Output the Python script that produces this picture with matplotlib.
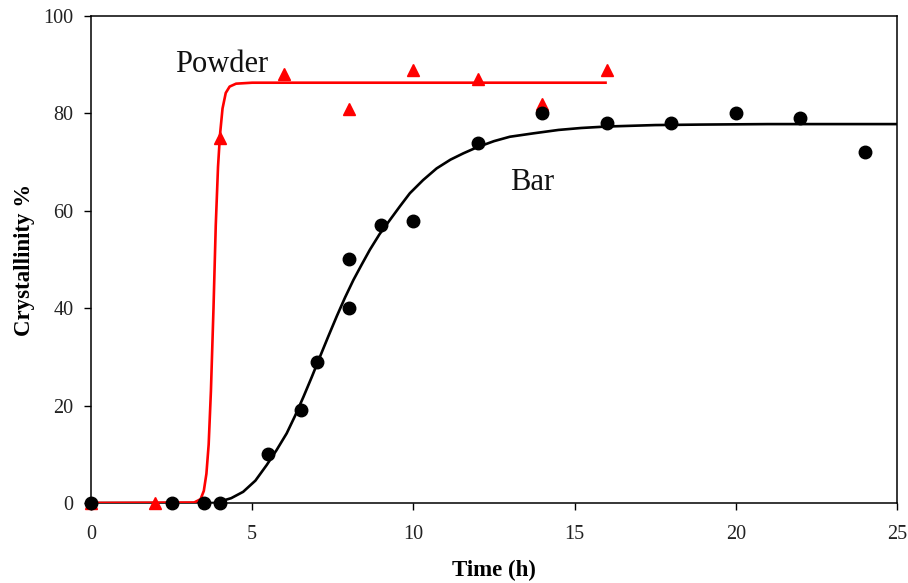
import matplotlib
matplotlib.use("Agg")
import matplotlib.pyplot as plt

# Measured data
bar_t = [0, 2.5, 3.5, 4, 5.5, 6.5, 7, 8, 8, 9, 10, 12, 14, 16, 18, 20, 22, 24]
bar_y = [0, 0, 0, 0, 10, 19, 29, 50, 40, 57, 58, 74, 80, 78, 78, 80, 79, 72]

powder_t = [0, 2, 4, 6, 8, 10, 12, 14, 16]
powder_y = [0, 0, 75, 88, 81, 89, 87, 82, 89]

# Fitted curves
bar_fit_t = [0, 3.8, 4.0, 4.35, 4.72, 5.1, 5.45, 5.75, 6.07, 6.33, 6.59, 6.85, 7.10,
             7.36, 7.62, 7.88, 8.14, 8.4, 8.65, 8.95, 9.27, 9.58, 9.89, 10.3, 10.72,
             11.15, 11.55, 11.96, 12.5, 12.99, 13.72, 14.5, 15.2, 15.99, 17.5, 18.9,
             21, 25]
bar_fit_y = [0, 0, 0.3, 1.0, 2.3, 4.6, 7.8, 10.8, 14.3, 17.9, 21.8, 25.9, 30.0,
             34.2, 38.3, 42.2, 45.8, 49.0, 52.0, 55.2, 58.1, 60.9, 63.6, 66.3, 68.7,
             70.5, 71.8, 73.0, 74.3, 75.2, 75.9, 76.6, 77.0, 77.3, 77.6, 77.7,
             77.8, 77.8]

powder_fit_t = [0, 3.2, 3.4, 3.5, 3.58, 3.65, 3.72, 3.8, 3.87, 3.94, 4.0, 4.08,
                4.18, 4.3, 4.5, 5.0, 16]
powder_fit_y = [0, 0.1, 0.8, 2.5, 6, 12, 23, 40, 57, 69, 75.5, 81,
                84.2, 85.5, 86.1, 86.3, 86.3]

x_ticks = [0, 5, 10, 15, 20, 25]
y_ticks = [0, 20, 40, 60, 80, 100]

plt.rcParams['font.family'] = ['Liberation Serif', 'DejaVu Serif']

fig = plt.figure(figsize=(9.08, 5.83), dpi=100)
ax = fig.add_axes([0.1002, 0.1372, 0.8877, 0.8354])

ax.plot(bar_fit_t, bar_fit_y, color='black', lw=1.9, zorder=2, solid_capstyle='butt')
ax.plot(powder_fit_t, powder_fit_y, color='#ff0000', lw=1.9, zorder=3, solid_capstyle='butt')
ax.plot(powder_t, powder_y, linestyle='none', marker='^', color='#ff0000',
        markersize=8.5, zorder=4, clip_on=False)
ax.plot(bar_t, bar_y, linestyle='none', marker='o', color='black',
        markersize=9, zorder=5, clip_on=False)

ax.text(2.6, 90.0, 'Powder', fontsize=22, ha='left', va='center', color='#111111')
ax.text(13.0, 65.8, 'Bar', fontsize=22, ha='left', va='center', color='#111111')

ax.set_xlim(0, 25)
ax.set_ylim(0, 100)
ax.set_xticks(x_ticks)
ax.set_yticks(y_ticks)
ax.tick_params(direction='out', length=5, width=1, labelsize=14.5,
               top=False, right=False, colors='black', labelcolor='#222222')
ax.tick_params(axis='x', pad=11)
ax.tick_params(axis='y', pad=7.5)
for s in ax.spines.values():
    s.set_linewidth(1.1)

ax.set_xlabel('Time (h)', fontsize=16.5, fontweight='bold', labelpad=11)
ax.set_ylabel('Crystallinity %', fontsize=16.5, fontweight='bold', labelpad=6.3)

fig.savefig('out.png', dpi=100)
